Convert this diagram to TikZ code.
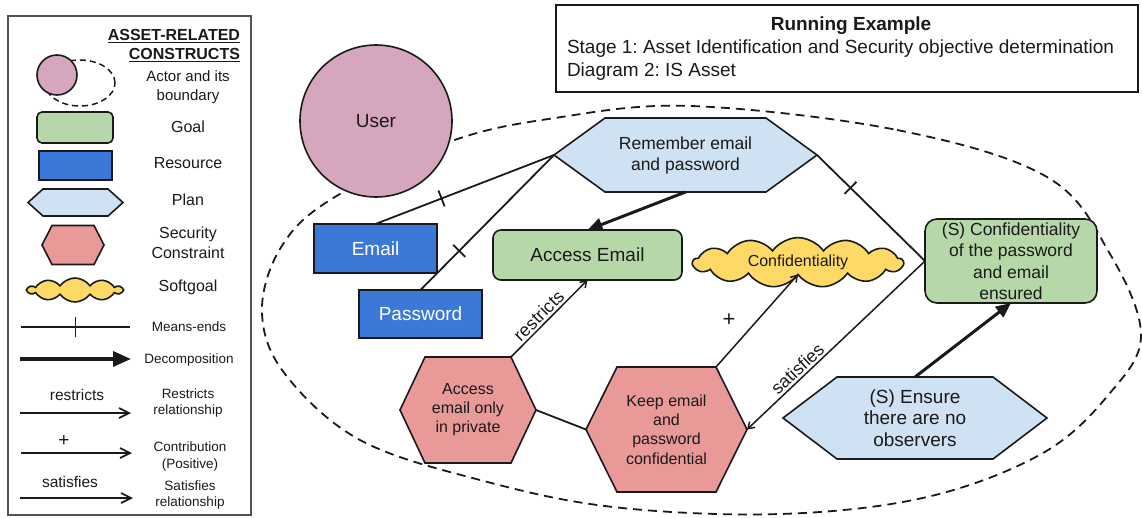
\documentclass[tikz,border=0pt]{standalone}
\usepackage{fontspec}
\setmainfont{Liberation Sans}
\frenchspacing
\usetikzlibrary{shapes.symbols,arrows.meta,calc}
\definecolor{actorc}{HTML}{D5A6BD}
\definecolor{goalc}{HTML}{B6D7A8}
\definecolor{resc}{HTML}{3C78D8}
\definecolor{planc}{HTML}{CFE2F3}
\definecolor{secc}{HTML}{EA9999}
\definecolor{softc}{HTML}{FFD966}
\definecolor{inkc}{HTML}{1A1A1A}
\newcommand{\fsz}[2]{\fontsize{#1}{#2}\selectfont}
\newcommand{\hexnode}[9]{%
  \path[#7] (#2-#4/2,#3) -- (#2-#4/2+#6,#3-#5/2) -- (#2+#4/2-#6,#3-#5/2) -- (#2+#4/2,#3) -- (#2+#4/2-#6,#3+#5/2) -- (#2-#4/2+#6,#3+#5/2) -- cycle;
  \node[align=center, minimum width=#4pt, minimum height=#5pt, #8] (#1) at (#2,#3) {#9};}
\begin{document}
\begin{tikzpicture}[x=1pt,y=-1pt,
  every node/.style={inner sep=0pt, outer sep=0pt, text=inkc},
  shapeline/.style={draw=inkc, line width=1.6pt},
  actor/.style={circle, shapeline, fill=actorc},
  goal/.style={rectangle, shapeline, fill=goalc},
  res/.style={rectangle, shapeline, fill=resc, text=white, font=\fsz{19}{22}},
  plan/.style={shapeline, fill=planc, line join=miter},
  sec/.style={shapeline, fill=secc, line join=miter},
  soft/.style={cloud, shapeline, fill=softc, cloud puffs=13, cloud puff arc=110, aspect=4.3},
  meline/.style={draw=inkc, line width=1.8pt},
  metick/.style={sloped, draw=inkc, line width=1.8pt, minimum width=0pt, minimum height=17pt},
  decomp/.style={draw=inkc, line width=3pt, -{Triangle[length=15pt,width=13pt]}},
  rel/.style={draw=inkc, line width=1.5pt, -{Straight Barb[length=6pt,width=8pt]}},
  lrel/.style={draw=inkc, line width=1.7pt, -{Straight Barb[length=10pt,width=10pt]}},
  lbl/.style={font=\fsz{18}{21}},
  lgl/.style={font=\fsz{16}{20}, align=center},
  lgs/.style={font=\fsz{13.5}{16.5}, align=center},
  boundary/.style={draw=inkc, line width=1.8pt, dash pattern=on 9pt off 6pt}
]
\useasboundingbox (0,0) rectangle (1142,517);

% ---------- main actor boundary ----------
\draw[boundary] plot[smooth cycle, tension=0.6] coordinates {
 (691,106) (897,130) (1047,177) (1110,254) (1141,335) (1110,393) (1043,453)
 (927,497) (780,514) (613,507) (480,480) (360,440) (285,374) (262,313)
 (280,249) (330,200) (449,142) (555,118)};

\node[actor, minimum size=152pt, font=\fsz{19}{22}] (user) at (376,121) {User};

% ---------- main nodes ----------
\hexnode{rem}{685.5}{155}{263}{74}{51}{plan}{font=\fsz{17.5}{21}}{Remember email\\and password}
\node[res, minimum width=123pt, minimum height=49pt] (email) at (375.5,248.5) {Email};
\node[res, minimum width=123pt, minimum height=48pt] (pwd) at (420.5,314) {Password};
\node[goal, rounded corners=8pt, minimum width=189pt, minimum height=50pt, font=\fsz{19}{22}] (acc) at (587.5,255) {Access Email};
\node[soft, minimum width=210pt, minimum height=49pt, font=\fsz{16}{19}] (conf) at (798,262.5) {Confidentiality};
\node[goal, rounded corners=12pt, minimum width=172pt, minimum height=84pt, font=\fsz{17.5}{21.5}, align=center] (cgoal) at (1011,261) {(S) Confidentiality\\of the password\\and email\\ensured};
\hexnode{priv}{468}{410}{136}{106}{25}{sec}{font=\fsz{16}{19}}{Access\\email only\\in private}
\hexnode{keep}{666.5}{429.5}{161}{125}{31}{sec}{font=\fsz{16}{19.3}}{Keep email\\and\\password\\confidential}
\hexnode{ens}{915}{418}{264}{82}{54}{plan}{font=\fsz{19}{21.5}}{(S) Ensure\\there are no\\observers}

% ---------- main connectors ----------
\draw[meline] (email.north) -- (rem.west) node[metick, pos=.37]{};
\draw[meline] (pwd.north) -- (rem.west) node[metick, pos=.29]{};
\draw[meline] (rem.east) -- (cgoal.west) node[metick, pos=.31]{};
\draw[decomp] (rem.south) -- (acc.north);
\draw[decomp] (ens.north) -- (cgoal.south);
\draw[rel] ($(priv.north east)-(25,0)$) -- (acc.south) node[lbl, sloped, above=3pt, pos=.45]{restricts};
\draw[rel] ($(keep.north east)-(31,0)$) -- (conf.south);
\node[font=\fsz{22}{24}] (plus) at (729,320) {+};
\draw[rel] (cgoal.west) -- (keep.east) node[lbl, sloped, above=3pt, pos=.68]{satisfies};
\draw[meline] (priv.east) -- (keep.west);

% ---------- title box ----------
\node[draw=inkc, line width=1.4pt, minimum width=582pt, minimum height=87pt, anchor=north west] (tbox) at (556,5) {};
\node[font=\bfseries\fsz{19}{22}] (tt1) at (851,26) {Running Example};
\node[anchor=west, font=\fsz{19}{22}] (tt2) at (567,49) {Stage 1: Asset Identification and Security objective determination};
\node[anchor=west, font=\fsz{19}{22}] (tt3) at (567,72) {Diagram 2: IS Asset};

% ---------- legend ----------
\node[draw=inkc!75, line width=1.1pt, minimum width=243pt, minimum height=499pt, anchor=north west] (legend) at (8,16) {};
\node[anchor=east, font=\bfseries\fsz{16}{19}] (lgt1) at (240,36) {\underline{ASSET-RELATED}};
\node[anchor=east, font=\bfseries\fsz{16}{19}] (lgt2) at (240,55) {\underline{CONSTRUCTS}};
\draw[draw=inkc, line width=1.5pt, dash pattern=on 6pt off 4pt] (80,83) ellipse [x radius=35pt, y radius=23pt];
\node[actor, minimum size=40pt] (lgact) at (57,75) {};
\node[lgl, font=\fsz{15}{19}] (lgactl) at (188,87.5) {Actor and its\\boundary};
\node[goal, rounded corners=5pt, minimum width=76pt, minimum height=31pt] (lggoal) at (75,127.5) {};
\node[lgl] (lggoall) at (188,127) {Goal};
\node[res, minimum width=73pt, minimum height=29pt] (lgres) at (75.5,165.5) {};
\node[lgl] (lgresl) at (188,163) {Resource};
\hexnode{lgplan}{75.5}{202.5}{95}{27}{15}{plan}{}{}
\node[lgl] (lgplanl) at (188,200) {Plan};
\hexnode{lgsec}{73}{245}{62}{39}{10}{sec}{}{}
\node[lgl] (lgsecl) at (188,243) {Security\\Constraint};
\node[soft, minimum width=94pt, minimum height=24pt, cloud puffs=10, aspect=3.9] (lgsoft) at (75,290) {};
\node[lgl] (lgsoftl) at (188,287) {Softgoal};

\coordinate (lme1) at (21,327); \coordinate (lme2) at (130,327);
\draw[meline] (lme1) -- (lme2) node[metick, minimum height=20pt, pos=.5]{};
\node[lgs] (lgmel) at (189,327) {Means-ends};

\coordinate (lde1) at (20,359); \coordinate (lde2) at (131,359);
\draw[draw=inkc, line width=3.5pt, -{Triangle[length=18pt,width=15pt]}] (lde1) -- (lde2);
\node[lgs] (lgdel) at (189,360) {Decomposition};

\coordinate (lre1) at (20,413); \coordinate (lre2) at (131,413);
\draw[lrel] (lre1) -- (lre2);
\node[font=\fsz{15.5}{18}] (lgrestr) at (77,395) {restricts};
\node[lgs] (lgrel) at (188,403) {Restricts\\relationship};

\coordinate (lco1) at (21,453); \coordinate (lco2) at (132,453);
\draw[lrel] (lco1) -- (lco2);
\node[font=\fsz{19}{21}] (lgplus) at (64,441) {+};
\node[lgs] (lgcol) at (190,456.5) {Contribution\\(Positive)};

\coordinate (lsa1) at (20,498); \coordinate (lsa2) at (133,498);
\draw[lrel] (lsa1) -- (lsa2);
\node[font=\fsz{15.5}{18}] (lgsat) at (70,482) {satisfies};
\node[lgs] (lgsal) at (190,495) {Satisfies\\relationship};
\end{tikzpicture}
\end{document}
